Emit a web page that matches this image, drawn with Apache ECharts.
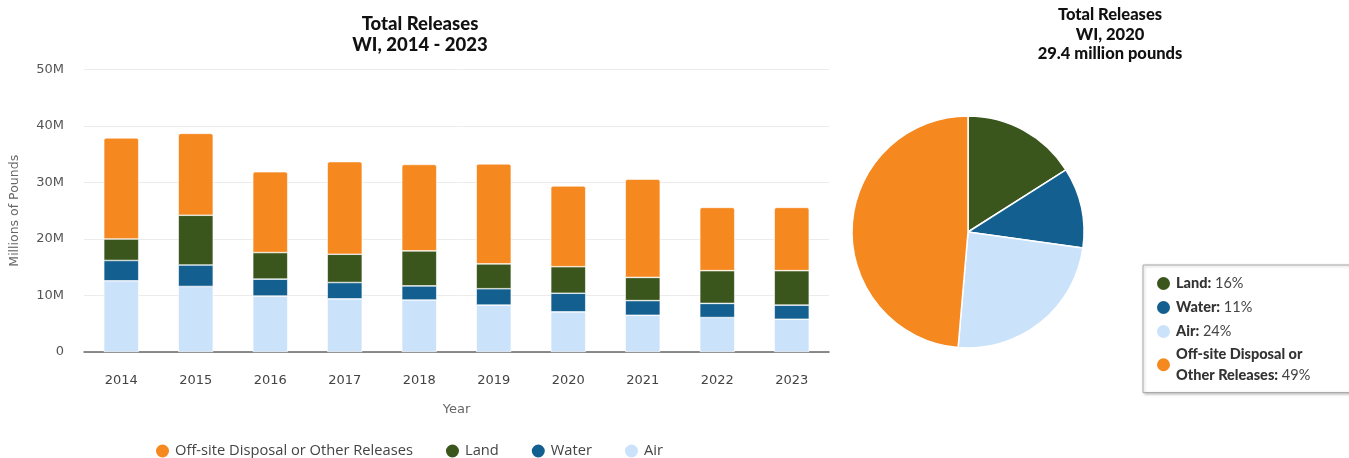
<!DOCTYPE html>
<html>
<head>
<meta charset="utf-8">
<script src="https://cdn.jsdelivr.net/npm/echarts@6/dist/echarts.min.js"></script>
<style>
html,body{margin:0;padding:0;background:#fff;}
#c{width:1349px;height:458px;}
</style>
</head>
<body>
<div id="c"></div>
<script>
const years = ['2014','2015','2016','2017','2018','2019','2020','2021','2022','2023'];
// values in millions of pounds (stack segments)
const air    = [12.6, 11.6, 9.9, 9.4, 9.2, 8.3, 7.1, 6.5, 6.1, 5.8];
const water  = [3.6, 3.8, 3.0, 2.9, 2.5, 2.9, 3.3, 2.6, 2.5, 2.5];
const land   = [3.8, 8.8, 4.7, 5.0, 6.2, 4.4, 4.7, 4.1, 5.8, 6.1];
const offsite= [17.9, 14.5, 14.3, 16.4, 15.3, 17.7, 14.3, 17.4, 11.2, 11.2];
const yTicks = [0, 10, 20, 30, 40, 50];

const pieNames  = ['Land', 'Water', 'Air', 'Off-site Disposal or Other Releases'];
const pieValues = [4.7, 3.3, 7.1, 14.3];

const colors = {
  'Off-site Disposal or Other Releases': '#f5881f',
  'Land': '#3a561c',
  'Water': '#135f8f',
  'Air': '#cbe2fb'
};

const pieTotal = pieValues.reduce((a,b)=>a+b,0);
const piePct = {};
pieNames.forEach((n,i)=>{ piePct[n] = Math.round(pieValues[i]/pieTotal*100); });

const FONT = 'DejaVu Sans';
const chart = echarts.init(document.getElementById('c'), null, {renderer:'canvas'});

function barSeries(name, data, top) {
  return {
    name: name, type: 'bar', stack: 'total', data: data,
    barWidth: '47%',
    itemStyle: { color: colors[name], borderColor: '#ffffff', borderWidth: 0.6,
                 borderRadius: top ? [2,2,0,0] : 0 },
    emphasis: { disabled: true }
  };
}

chart.setOption({
  animation: false,
  title: [
    { text: 'Total Releases\nWI, 2014 - 2023', left: 415, top: 9, textAlign: 'center',
      textStyle: { fontFamily: 'Lato', fontWeight: 900, fontSize: 18.5, lineHeight: 21, color: '#111' } },
    { text: 'Total Releases\nWI, 2020\n29.4 million pounds', left: 1105, top: 0, textAlign: 'center',
      textStyle: { fontFamily: 'Lato', fontWeight: 900, fontSize: 16.5, lineHeight: 19.5, color: '#111' } }
  ],
  grid: { left: 80, right: 520, top: 69.5, bottom: 106 },
  xAxis: {
    type: 'category', data: years,
    name: 'Year', nameLocation: 'middle', nameGap: 51,
    nameTextStyle: { fontFamily: FONT, fontSize: 13, color: '#666' },
    axisLine: { lineStyle: { color: '#666', width: 1.5 } },
    axisTick: { show: false },
    axisLabel: { fontFamily: FONT, fontSize: 13, color: '#444', margin: 22 }
  },
  yAxis: {
    type: 'value', min: 0, max: 50, interval: 10,
    name: 'Millions of Pounds', nameLocation: 'middle', nameGap: 63,
    nameTextStyle: { fontFamily: FONT, fontSize: 12.5, color: '#666' },
    axisLine: { show: false }, axisTick: { show: false },
    axisLabel: { fontFamily: FONT, fontSize: 13, color: '#555', margin: 20,
      formatter: v => yTicks.includes(v) ? (v === 0 ? '0' : v + 'M') : '' },
    splitLine: { lineStyle: { color: '#ececec', width: 1 } }
  },
  legend: [
    { data: ['Off-site Disposal or Other Releases', 'Land', 'Water', 'Air'],
      left: 149, top: 437.5, icon: 'circle', itemWidth: 15, itemHeight: 15, itemGap: 31,
      textStyle: { fontFamily: 'Open Sans', fontSize: 14.7, color: '#444' },
      selectedMode: false },
    { data: pieNames, orient: 'vertical', left: 1143, top: 265,
      icon: 'circle', itemWidth: 15, itemHeight: 15, itemGap: 7,
      padding: [10, 80, 10, 12],
      borderColor: '#aaa', borderWidth: 1, backgroundColor: '#fff',
      shadowColor: 'rgba(0,0,0,0.25)', shadowBlur: 3, shadowOffsetX: 1, shadowOffsetY: 1,
      selectedMode: false,
      formatter: function(n){
        const label = n === 'Off-site Disposal or Other Releases' ? 'Off-site Disposal or\nOther Releases' : n;
        const parts = label.split('\n');
        if (parts.length > 1) {
          return '{b|' + parts[0] + '}\n{b|' + parts[1] + ':}{n| ' + piePct[n] + '%}';
        }
        return '{b|' + label + ':}{n| ' + piePct[n] + '%}';
      },
      textStyle: { rich: {
        b: { fontFamily: 'Lato', fontWeight: 900, fontSize: 14.5, color: '#333', lineHeight: 20.5 },
        n: { fontFamily: 'Lato', fontSize: 14.5, color: '#444', lineHeight: 20.5 }
      } } }
  ],
  series: [
    barSeries('Air', air, false),
    barSeries('Water', water, false),
    barSeries('Land', land, false),
    barSeries('Off-site Disposal or Other Releases', offsite, true),
    {
      type: 'pie', center: [968, 232], radius: 116, startAngle: 90, clockwise: true,
      label: { show: false }, labelLine: { show: false },
      itemStyle: { borderColor: '#fff', borderWidth: 1.5 },
      emphasis: { disabled: true },
      data: pieNames.map((n,i)=>({ name: n, value: pieValues[i], itemStyle: { color: colors[n] } }))
    }
  ]
});
</script>
</body>
</html>
